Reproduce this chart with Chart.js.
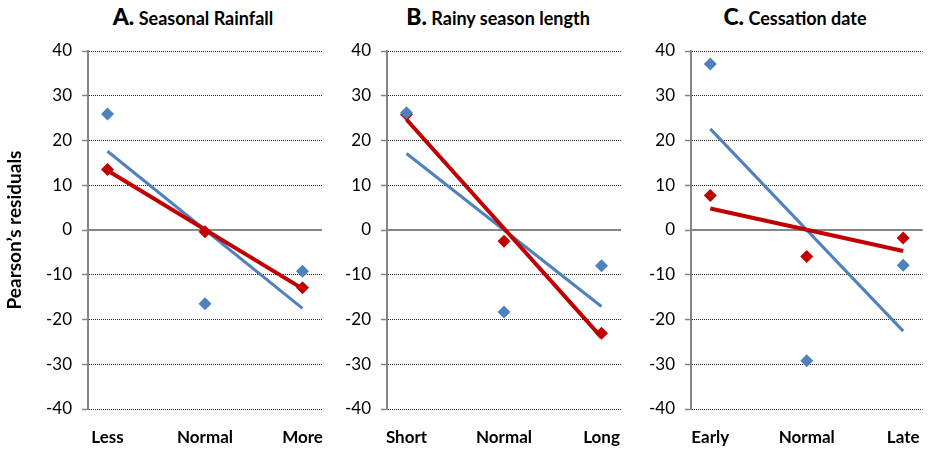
<!DOCTYPE html>
<html>
<head>
<meta charset="utf-8">
<script src="https://cdn.jsdelivr.net/npm/chart.js@4.4.0/dist/chart.umd.min.js"></script>
<style>
  body { margin: 0; background: #fff; width: 929px; height: 449px; overflow: hidden; position: relative; font-family: Lato, sans-serif; }
  .panel { position: absolute; top: 40px; height: 409px; }
  .ttl { position: absolute; top: 2px; width: 300px; text-align: center; font-weight: bold; font-size: 18px; color: #000; white-space: nowrap; line-height: 28px; }
  .ttl b { font-size: 23px; }
</style>
</head>
<body>
<div class="ttl" style="left:43px"><b>A.</b> Seasonal Rainfall</div>
<div class="ttl" style="left:348px"><b>B.</b> Rainy season length</div>
<div class="ttl" style="left:645px"><b>C.</b> Cessation date</div>
<div class="panel" style="left:0;width:330px"><canvas id="chartA"></canvas></div>
<div class="panel" style="left:330px;width:300px"><canvas id="chartB"></canvas></div>
<div class="panel" style="left:630px;width:299px"><canvas id="chartC"></canvas></div>
<script>
// y axis
const yMin = -40;
const yMax = 40;
const yStep = 10;

// A. Seasonal Rainfall
const categoriesA = ["Less", "Normal", "More"];
const blueA = [25.9, -16.5, -9.2];
const redA = [13.5, -0.4, -12.9];
const blueTrendA = [17.6, -17.5];
const redTrendA = [13.3, -13.1];

// B. Rainy season length
const categoriesB = ["Short", "Normal", "Long"];
const blueB = [26.2, -18.3, -8.0];
const redB = [25.8, -2.5, -23.1];
const blueTrendB = [17.1, -17.1];
const redTrendB = [24.7, -24.0];

// C. Cessation date
const categoriesC = ["Early", "Normal", "Late"];
const blueC = [37.1, -29.2, -7.9];
const redC = [7.7, -5.9, -1.8];
const blueTrendC = [22.6, -22.6];
const redTrendC = [4.8, -4.7];

const BLUE = "#4F81BD";
const RED = "#C00000";
const AXIS = "#868686";

// solid line at y = 0 (Excel's category axis crossing)
const zeroLine = {
    id: "zeroLine",
    beforeDatasetsDraw(chart) {
        const { ctx, chartArea, scales } = chart;
        const y = Math.round(scales.y.getPixelForValue(0));
        ctx.save();
        ctx.strokeStyle = AXIS;
        ctx.lineWidth = 2;
        ctx.beginPath();
        ctx.moveTo(chartArea.left, y);
        ctx.lineTo(chartArea.right, y);
        ctx.stroke();
        ctx.restore();
    }
};

function makePanel(id, cats, blue, red, blueTrend, redTrend, yWidth, padRight, yTitle) {
    const toPts = arr => arr.map((v, i) => ({ x: i + 1, y: v }));
    const toTrend = t => [{ x: 1, y: t[0] }, { x: cats.length, y: t[1] }];

    new Chart(document.getElementById(id), {
        type: "scatter",
        data: {
            datasets: [
                { data: toPts(blue), backgroundColor: BLUE, borderColor: BLUE, pointStyle: "rectRot", pointRadius: 6.5, borderWidth: 0, order: 0 },
                { data: toPts(red), backgroundColor: RED, borderColor: RED, pointStyle: "rectRot", pointRadius: 6.5, borderWidth: 0, order: 1 },
                { data: toTrend(redTrend), showLine: true, borderColor: RED, borderWidth: 4, pointRadius: 0, order: 2 },
                { data: toTrend(blueTrend), showLine: true, borderColor: BLUE, borderWidth: 3, pointRadius: 0, order: 3 }
            ]
        },
        options: {
            responsive: true,
            maintainAspectRatio: false,
            animation: false,
            layout: { padding: { top: 11, right: padRight, left: 0, bottom: 0 } },
            plugins: { legend: { display: false }, tooltip: { enabled: false } },
            scales: {
                x: {
                    type: "linear",
                    min: 0.8,
                    max: 3.2,
                    grid: { display: false, drawTicks: false },
                    border: { display: false },
                    afterBuildTicks: s => { s.ticks = cats.map((c, i) => ({ value: i + 1 })); },
                    afterFit: s => { s.height = 40; s.paddingLeft = 0; s.paddingRight = 0; },
                    ticks: {
                        padding: 18,
                        color: "#000",
                        font: { family: "Lato", size: 17, weight: "bold" },
                        callback: v => cats[v - 1]
                    }
                },
                y: {
                    min: yMin,
                    max: yMax,
                    afterFit: s => { s.width = yWidth; s.paddingTop = 0; s.paddingBottom = 0; },
                    ticks: { stepSize: yStep, padding: 10, color: "#000", font: { family: "Lato", size: 17 } },
                    grid: { color: "#222", lineWidth: 1, tickColor: AXIS, tickLength: 6, tickWidth: 1.5 },
                    border: { display: true, color: AXIS, width: 2, dash: [1, 1] },
                    title: {
                        display: !!yTitle,
                        text: yTitle || "",
                        color: "#000",
                        font: { family: "Lato", size: 19, weight: "bold" },
                        padding: { top: 3, bottom: 0 }
                    }
                }
            }
        },
        plugins: [zeroLine]
    });
}

makePanel("chartA", categoriesA, blueA, redA, blueTrendA, redTrendA, 88, 8, "Pearson\u2019s residuals");
makePanel("chartB", categoriesB, blueB, redB, blueTrendB, redTrendB, 57, 9, null);
makePanel("chartC", categoriesC, blueC, redC, blueTrendC, redTrendC, 61, 2, null);
</script>
</body>
</html>
